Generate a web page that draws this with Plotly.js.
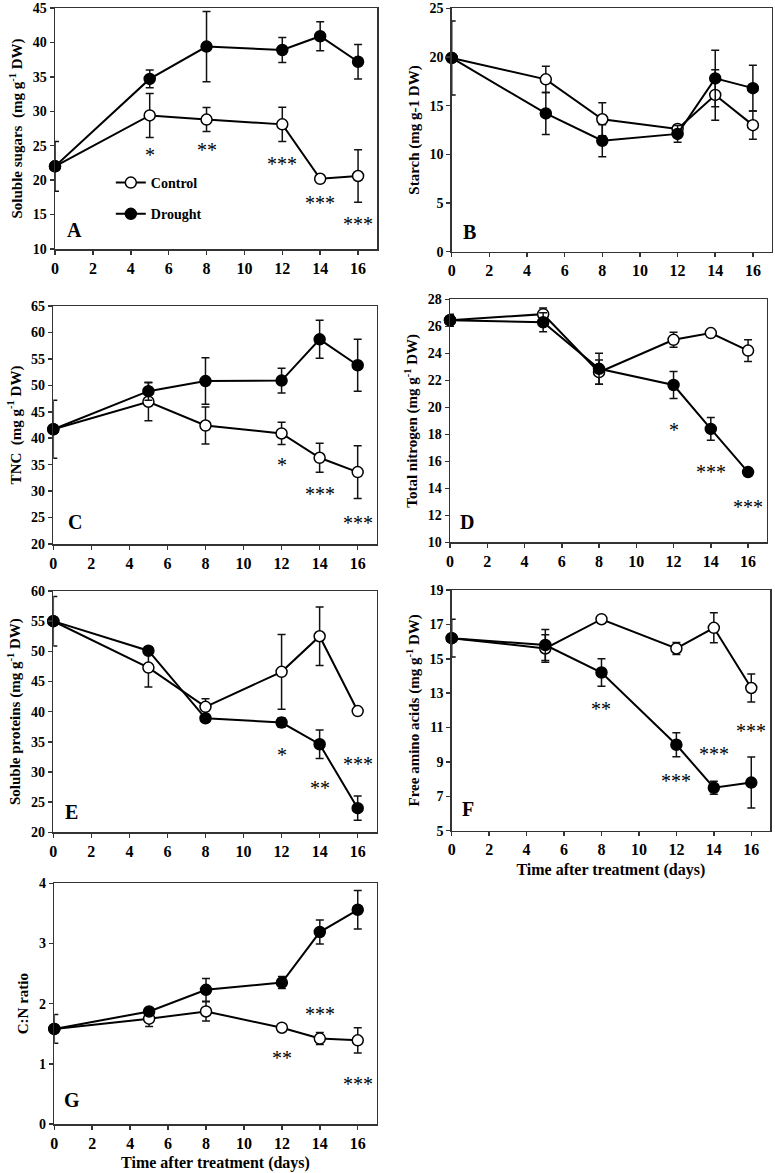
<!DOCTYPE html>
<html>
<head>
<meta charset="utf-8">
<script src="https://cdn.plot.ly/plotly-3.0.1.min.js"></script>
<style>html,body{margin:0;padding:0;background:#fff;}#chart{width:775px;height:1173px;}</style>
</head>
<body>
<div id="chart"></div>
<script>
// ---------------- DATA ----------------
const days = [0, 5, 8, 12, 14, 16];
const seriesNames = ['Control', 'Drought'];
const xTitle = 'Time after treatment (days)';

// A: soluble sugars
const sugarsControl    = [22.0, 29.4, 28.8, 28.1, 20.2, 20.6];
const sugarsControlErr = [3.6, 3.2, 1.75, 2.5, 0.3, 3.8];
const sugarsDrought    = [22.0, 34.7, 39.4, 38.9, 40.9, 37.2];
const sugarsDroughtErr = [0, 1.3, 5.1, 1.8, 2.1, 2.5];
const sugarsSig  = ['', '*', '**', '***', '***', '***'];
const sugarsSigY = [null, 24.3, 24.9, 22.9, 17.3, 14.2];

// B: starch
const starchControl    = [19.9, 17.7, 13.6, 12.6, 16.1, 13.0];
const starchControlErr = [3.8, 1.35, 1.7, 0.3, 2.6, 1.45];
const starchDrought    = [19.9, 14.2, 11.4, 12.1, 17.8, 16.8];
const starchDroughtErr = [0, 2.15, 1.65, 0.85, 2.9, 2.35];
const starchSig  = ['', '', '', '', '', ''];
const starchSigY = [null, null, null, null, null, null];

// C: TNC
const tncControl    = [41.7, 46.9, 42.4, 40.9, 36.3, 33.6];
const tncControlErr = [5.5, 3.6, 3.5, 2.1, 2.75, 5.0];
const tncDrought    = [41.7, 48.9, 50.8, 50.9, 58.7, 53.8];
const tncDroughtErr = [0, 1.7, 4.4, 2.35, 3.6, 4.9];
const tncSig  = ['', '', '', '*', '***', '***'];
const tncSigY = [null, null, null, 35.6, 30.2, 24.7];

// D: total nitrogen
const nitrogenControl    = [26.45, 26.9, 22.6, 25.0, 25.5, 24.2];
const nitrogenControlErr = [0.45, 0.45, 0.9, 0.55, 0.1, 0.8];
const nitrogenDrought    = [26.45, 26.3, 22.85, 21.65, 18.4, 15.2];
const nitrogenDroughtErr = [0, 0.7, 1.15, 1.0, 0.85, 0.1];
const nitrogenSig  = ['', '', '', '*', '***', '***'];
const nitrogenSigY = [null, null, null, 18.6, 15.5, 12.9];

// E: soluble proteins
const proteinsControl    = [55.0, 47.3, 40.8, 46.6, 52.5, 40.1];
const proteinsControlErr = [4.1, 3.2, 1.35, 6.2, 4.85, 0.2];
const proteinsDrought    = [55.0, 50.1, 38.9, 38.2, 34.6, 24.0];
const proteinsDroughtErr = [0, 0.3, 0.3, 0.8, 2.35, 2.0];
const proteinsSig  = ['', '', '', '*', '**', '***'];
const proteinsSigY = [null, null, null, 33.4, 28.0, 32.0];

// F: free amino acids
const aminoControl    = [16.2, 15.6, 17.3, 15.6, 16.8, 13.3];
const aminoControlErr = [1.1, 0.8, 0.1, 0.35, 0.87, 0.82];
const aminoDrought    = [16.2, 15.8, 14.2, 10.0, 7.5, 7.8];
const aminoDroughtErr = [0, 0.9, 0.8, 0.7, 0.38, 1.48];
const aminoSig  = ['', '', '**', '***', '***', '***'];
const aminoSigY = [null, null, 12.3, 8.1, 9.7, 11.05];

// G: C:N ratio
const cnControl    = [1.58, 1.75, 1.87, 1.6, 1.42, 1.39];
const cnControlErr = [0.24, 0.13, 0.16, 0.05, 0.1, 0.21];
const cnDrought    = [1.58, 1.87, 2.23, 2.35, 3.19, 3.56];
const cnDroughtErr = [0, 0.04, 0.19, 0.1, 0.2, 0.32];
const cnSig  = ['', '', '', '**', '***', '***'];
const cnSigY = [null, null, null, 1.16, 1.89, 0.73];

// ---------------- PANELS ----------------
const W = 775, H = 1173;
const panels = [
  {id: '', letter: 'A', ytitle: 'Soluble sugars  (mg g<sup>-1</sup> DW)', yr: [10, 45], dt: 5,
   px: [55, 377], py: [8, 249], c: sugarsControl, ce: sugarsControlErr, d: sugarsDrought, de: sugarsDroughtErr,
   sig: sugarsSig, sigY: sugarsSigY, lab: [0.062, 0.079], legend: true},
  {id: '2', letter: 'B', ytitle: 'Starch (mg g-1 DW)', yr: [0, 25], dt: 5,
   px: [451.7, 771.7], py: [8.3, 251.7], c: starchControl, ce: starchControlErr, d: starchDrought, de: starchDroughtErr,
   sig: starchSig, sigY: starchSigY, lab: [0.057, 0.082]},
  {id: '3', letter: 'C', ytitle: 'TNC  (mg g<sup>-1</sup> DW)', yr: [20, 65], dt: 5,
   px: [53.3, 376.7], py: [306, 544], c: tncControl, ce: tncControlErr, d: tncDrought, de: tncDroughtErr,
   sig: tncSig, sigY: tncSigY, lab: [0.067, 0.094]},
  {id: '4', letter: 'D', ytitle: 'Total nitrogen (mg g<sup>-1</sup> DW)', yr: [10, 28], dt: 2,
   px: [450, 766.7], py: [299.3, 542.3], c: nitrogenControl, ce: nitrogenControlErr, d: nitrogenDrought, de: nitrogenDroughtErr,
   sig: nitrogenSig, sigY: nitrogenSigY, lab: [0.053, 0.085]},
  {id: '5', letter: 'E', ytitle: 'Soluble proteins (mg g<sup>-1</sup> DW)', yr: [20, 60], dt: 5,
   px: [53.3, 376.7], py: [591, 832.3], c: proteinsControl, ce: proteinsControlErr, d: proteinsDrought, de: proteinsDroughtErr,
   sig: proteinsSig, sigY: proteinsSigY, lab: [0.057, 0.085]},
  {id: '6', letter: 'F', ytitle: 'Free amino acids (mg g<sup>-1</sup> DW)', yr: [5, 19], dt: 2,
   px: [451.7, 770], py: [590, 830.7], c: aminoControl, ce: aminoControlErr, d: aminoDrought, de: aminoDroughtErr,
   sig: aminoSig, sigY: aminoSigY, lab: [0.052, 0.089], xtitle: true},
  {id: '7', letter: 'G', ytitle: 'C:N ratio', yr: [0, 4], dt: 1,
   px: [54.3, 376.7], py: [883.3, 1124], c: cnControl, ce: cnControlErr, d: cnDrought, de: cnDroughtErr,
   sig: cnSig, sigY: cnSigY, lab: [0.054, 0.10], xtitle: true}
];

const FONT = 'Liberation Serif, Times New Roman, serif';
const INK = '#000';
const traces = [];
const annotations = [];
const layout = {
  width: W, height: H,
  margin: {l: 0, r: 0, t: 0, b: 0},
  paper_bgcolor: '#fff', plot_bgcolor: '#fff',
  font: {family: FONT, color: INK, size: 14, weight: 700},
  showlegend: true,
  legend: {x: 0.143, y: 1 - 167 / H, xanchor: 'left', yanchor: 'top',
           bgcolor: 'rgba(0,0,0,0)', font: {family: FONT, size: 14, weight: 700, color: INK},
           tracegroupgap: 10, traceorder: 'grouped', itemwidth: 30},
  annotations: annotations
};

panels.forEach(p => {
  const xa = 'x' + p.id, ya = 'y' + p.id;
  const xk = 'xaxis' + p.id, yk = 'yaxis' + p.id;
  const axisCommon = {
    showline: true, mirror: true, linecolor: '#333', linewidth: 1.5,
    ticks: 'outside', ticklen: 4, tickwidth: 1.5, tickcolor: '#333',
    showgrid: false, zeroline: false, fixedrange: true
  };
  const xaxis = Object.assign({}, axisCommon, {
    domain: [p.px[0] / W, p.px[1] / W], range: [0, 17], dtick: 2, tick0: 0,
    anchor: ya, tickfont: {family: FONT, size: 16, weight: 700, color: INK}
  });
  if (p.xtitle) xaxis.title = {text: xTitle, font: {family: FONT, size: 16, weight: 700, color: INK}, standoff: 6};
  layout[xk] = xaxis;
  layout[yk] = Object.assign({}, axisCommon, {
    domain: [1 - p.py[1] / H, 1 - p.py[0] / H], range: p.yr, dtick: p.dt, tick0: p.yr[0],
    anchor: xa, tickfont: {family: FONT, size: 14, weight: 700, color: INK},
    title: {text: p.ytitle, font: {family: FONT, size: 15, weight: 700, color: INK}, standoff: 6}
  });
  const base = {
    x: days, xaxis: xa, yaxis: ya, type: 'scatter', mode: 'lines+markers',
    line: {color: '#000', width: 2}, cliponaxis: false, hoverinfo: 'skip'
  };
  traces.push(Object.assign({}, base, {
    y: p.c, name: seriesNames[0], legendgroup: 'c', showlegend: !!p.legend,
    marker: {symbol: 'circle', size: 11, color: '#fff', line: {color: '#000', width: 1.5}},
    error_y: {type: 'data', array: p.ce, visible: true, color: '#111', thickness: 1.5, width: 4}
  }));
  traces.push(Object.assign({}, base, {
    y: p.d, name: seriesNames[1], legendgroup: 'd', showlegend: !!p.legend,
    marker: {symbol: 'circle', size: 11, color: '#000', line: {color: '#000', width: 1.5}},
    error_y: {type: 'data', array: p.de, visible: true, color: '#111', thickness: 1.5, width: 4}
  }));
  // significance stars
  p.sig.forEach((s, i) => {
    if (!s) return;
    annotations.push({x: days[i], y: p.sigY[i], xref: xa, yref: ya, text: s, showarrow: false,
      yshift: -4, font: {family: FONT, size: 20, weight: 400, color: '#000'}});
  });
  // panel letter
  annotations.push({x: p.lab[0], y: p.lab[1], xref: xa + ' domain', yref: ya + ' domain', text: p.letter,
    showarrow: false, xanchor: 'center', yanchor: 'middle',
    font: {family: FONT, size: 20, weight: 700, color: INK}});
});

Plotly.newPlot('chart', traces, layout, {staticPlot: true, displayModeBar: false});
</script>
</body>
</html>
